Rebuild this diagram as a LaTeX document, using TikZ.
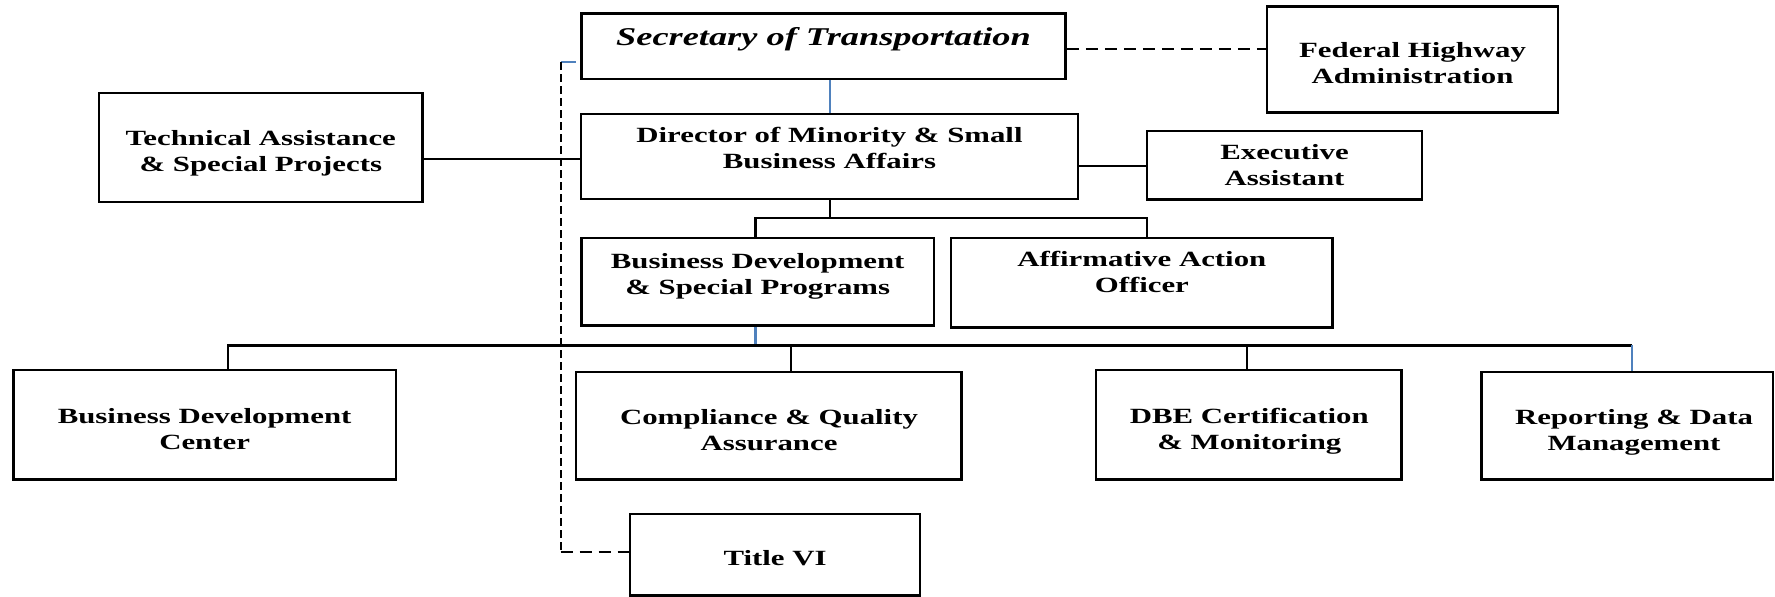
\documentclass[tikz,border=0pt]{standalone}
\usepackage{fontspec}
\setmainfont{Liberation Serif}[FakeStretch=1.42]
\usetikzlibrary{fit}
\definecolor{lineblue}{HTML}{4F81BD}
\tikzset{
  box/.style={draw, line width=1.3pt, inner sep=0pt, rectangle},
  lbl/.style={align=center, inner sep=0pt, font=\fontsize{10.85pt}{13pt}\selectfont\bfseries},
  ttl/.style={inner sep=0pt, font=\fontsize{12.8pt}{15.4pt}\selectfont\bfseries\itshape},
  conn/.style={line width=1.1pt},
  blu/.style={draw=lineblue},
  dshv/.style={line width=1.1pt, dash pattern=on 4pt off 2pt},
  dshh/.style={line width=1.2pt, dash pattern=on 6pt off 3.5pt},
}
\begin{document}
\begin{tikzpicture}[x=0.5pt,y=-0.5pt]
\useasboundingbox (0,0) rectangle (1775,597);
% boxes
\node[box, fit={(581.5,13.3) (1065.5,79)}] (sec) {};
\node[box, fit={(1267,6.7) (1558,112.3)}] (fhwa) {};
\node[box, fit={(581,114) (1078,199)}] (dir) {};
\node[box, fit={(1147,131) (1422,199.3)}] (ea) {};
\node[box, fit={(99,93) (422.5,202)}] (ta) {};
\node[box, fit={(581.5,238) (934,325.7)}] (bdsp) {};
\node[box, fit={(951,238) (1332.6,327.7)}] (aa) {};
\node[box, fit={(13.2,370) (396,479.3)}] (bdc) {};
\node[box, fit={(576,372) (961.6,479.3)}] (cqa) {};
\node[box, fit={(1096,370) (1401.7,479.3)}] (dbe) {};
\node[box, fit={(1481.6,372) (1773,479.3)}] (rdm) {};
\node[box, fit={(630,514) (920,595.3)}] (t6) {};
% texts
\node[ttl] (sec-t) at (823.5,39.6) {Secretary of Transportation};
\node[lbl] (fhwa-t) at (1412.5,62.8) {Federal Highway\\Administration};
\node[lbl] (dir-t) at (829.5,147.8) {Director of Minority \& Small\\Business Affairs};
\node[lbl] (ea-t) at (1284.5,165) {Executive\\Assistant};
\node[lbl] (ta-t) at (260.8,153) {Technical Assistance\\\& Special Projects};
\node[lbl] (bdsp-t) at (757.7,276.3) {Business Development\\\& Special Programs};
\node[lbl] (aa-t) at (1141.8,272.4) {Affirmative Action\\Officer};
\node[lbl] (bdc-t) at (204.6,428.7) {Business Development\\Center};
\node[lbl] (cqa-t) at (769,430) {Compliance \& Quality\\Assurance};
\node[lbl] (dbe-t) at (1249.3,431) {DBE Certification\\\& Monitoring};
\node[lbl] (rdm-t) at (1634,432.3) {Reporting \& Data\\Management};
\node[lbl] (t6-t) at (775,558.3) {Title VI};
% connectors
\draw[conn,blu] (sec.south -| 830,0) -- (dir.north -| 830,0);
\draw[dshh] (sec.east |- 0,49) -- (fhwa.west |- 0,49);
\draw[conn] (ta.east |- 0,159) -- (dir.west |- 0,159);
\draw[conn] (dir.east |- 0,166) -- (ea.west |- 0,166);
\coordinate (j1) at (830,218);
\draw[conn] (dir.south -| j1) -- (j1);
\draw[conn] (bdsp.north -| 755.5,0) -- (j1 -| 755.5,0) -- (j1 -| 1147,0) -- (aa.north -| 1147,0);
\coordinate (bus) at (0,345.5);
\draw[conn,blu] (bdsp.south -| 755.5,0) -- (bus -| 755.5,0);
\draw[conn] (bdc.north -| 228,0) -- (bus -| 228,0) -- (bus -| 1631.7,0);
\draw[conn] (cqa.north -| 791,0) -- (bus -| 791,0);
\draw[conn] (dbe.north -| 1246.7,0) -- (bus -| 1246.7,0);
\draw[conn,blu] (rdm.north -| 1631.7,0) -- (bus -| 1631.7,0);
% dashed side link
\coordinate (dtop) at (560.7,62.3);
\coordinate (dbot) at (560.7,552.3);
\draw[conn,blu] (dtop) -- ++(15.3,0);
\draw[dshv] (dtop) -- (dbot);
\draw[dshh] (dbot) -- (dbot -| t6.west);
\end{tikzpicture}
\end{document}
